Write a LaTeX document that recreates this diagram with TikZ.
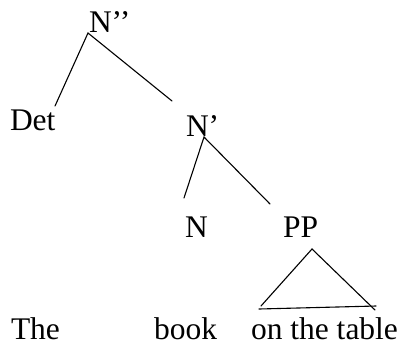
\documentclass[tikz,border=0pt]{standalone}
\usepackage{fontspec}
\setmainfont{Liberation Serif}
\tikzset{
  lbl/.style={inner sep=0pt, outer sep=0pt, anchor=base west, font=\fontsize{31.5}{37}\selectfont},
  branch/.style={line width=1.1pt, line cap=round}
}
\begin{document}
\begin{tikzpicture}[x=1pt,y=-1pt]
\useasboundingbox (0,0) rectangle (403,348);
% labels
\node[lbl] (Npp) at (89,32) {N’’};
\node[lbl] (Det) at (10,130) {Det};
\node[lbl] (Np) at (186,136) {N’};
\node[lbl] (N) at (185,237) {N};
\node[lbl] (PP) at (283,237) {PP};
\node[lbl] (The) at (11,339) {The};
\node[lbl] (book) at (154,339) {book};
\node[lbl] (table) at (251,339) {on the table};
% branch end points
\coordinate (NppB) at (88,33);
\coordinate (DetT) at (55,106);
\coordinate (NpT) at (172,101);
\coordinate (NpB) at (204,137);
\coordinate (NT) at (184,198);
\coordinate (PPT) at (270,204);
\coordinate (apex) at (312,249);
\coordinate (triL) at (261,306);
\coordinate (triR) at (375,310);
\coordinate (baseL) at (259,309);
\coordinate (baseR) at (376,306);
% branches
\draw[branch] (DetT) -- (NppB) -- (NpT);
\draw[branch] (NT) -- (NpB) -- (PPT);
\draw[branch] (triL) -- (apex) -- (triR);
\draw[branch] (baseL) -- (baseR);
\end{tikzpicture}
\end{document}
